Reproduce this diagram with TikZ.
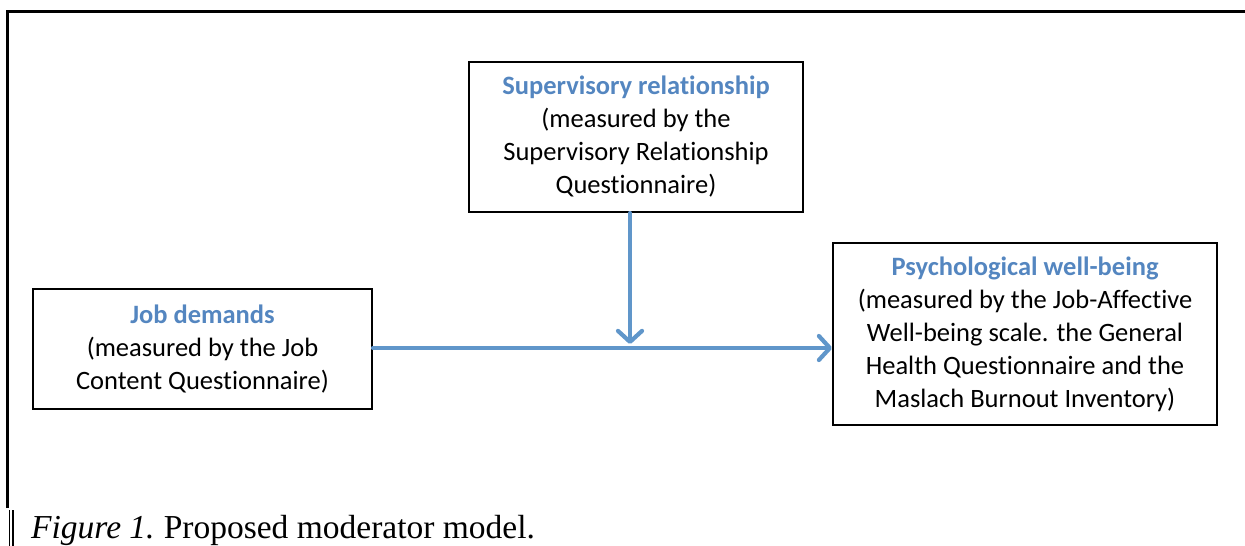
\documentclass[tikz,border=0pt]{standalone}
\usepackage{fontspec}
\setmainfont{Carlito}[RawFeature=-liga]
\newfontfamily\capfont{Liberation Serif}
\usetikzlibrary{arrows.meta}
\definecolor{arrowblue}{RGB}{96,150,202}
\definecolor{titleblue}{RGB}{84,134,192}
\tikzset{
  box/.style={draw=black, line width=2pt, rectangle, align=center, inner sep=0pt,
    font=\fontsize{26.5}{33}\selectfont},
  arr/.style={draw=arrowblue, line width=4.2pt, line cap=round,
    -{Straight Barb[length=11pt,width=24pt,round]}}
}
\newcommand{\ttlt}[1]{{\bfseries\color{titleblue}#1}}
\begin{document}
\begin{tikzpicture}[x=1pt,y=-1pt]
\useasboundingbox (0,0) rectangle (1245,546);
% frame
\draw[line width=3pt] (7,508) -- (7,11) -- (1246,11);
\draw[line width=1.3pt] (9.5,510) -- (9.5,546);
\draw[line width=1.3pt] (13,510) -- (13,546);
% boxes
\node[box, minimum width=334pt, minimum height=150pt] (sup) at (636,137)
  {\ttlt{Supervisory relationship}\\(measured by the\\Supervisory Relationship\\Questionnaire)};
\node[box, minimum width=339pt, minimum height=120pt] (job) at (202.5,349)
  {\ttlt{Job demands}\\(measured by the Job\\Content Questionnaire)};
\node[box, minimum width=384pt, minimum height=182pt] (psy) at (1025,334)
  {\ttlt{Psychological well-being}\\(measured by the Job-Affective\\Well-being scale. the General\\Health Questionnaire and the\\Maslach Burnout Inventory)};
% connectors
\coordinate (mid) at (630,348);
\coordinate (vtip) at (630,344);
\draw[arr] (job.east |- mid) -- (psy.west |- mid);
\draw[arr] (sup.south -| mid) -- (vtip);
% caption
\node[anchor=base west, inner sep=0pt, font=\capfont\fontsize{33.5}{40}\selectfont] (cap) at (31,538)
  {\textit{Figure 1.}\hspace{-2pt} Proposed moderator model.};
\end{tikzpicture}
\end{document}
